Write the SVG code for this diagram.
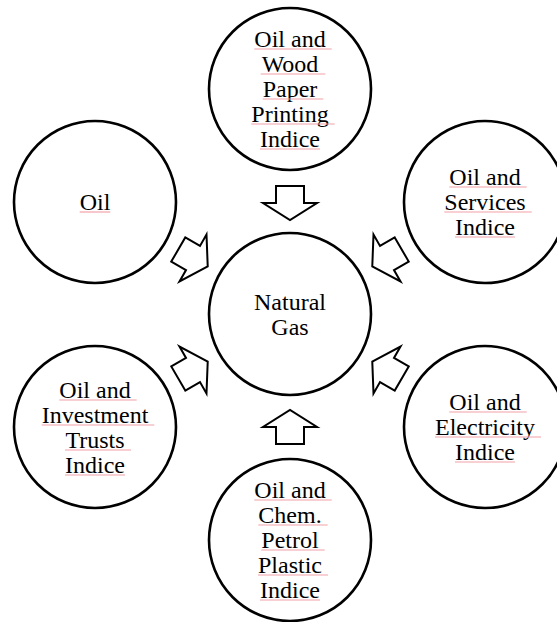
<svg xmlns="http://www.w3.org/2000/svg" xmlns:xlink="http://www.w3.org/1999/xlink" width="557" height="622" viewBox="0 0 557 622">
<style>
.node circle{fill:#fff;stroke:#000;stroke-width:2.6}
.node text{font-size:24px;fill:#000;text-anchor:middle}
.arr{fill:#fff;stroke:#000;stroke-width:2;stroke-linejoin:miter}
.sq{stroke:#f2a2aa;stroke-width:1.2;fill:none}
</style>
<defs>
<path id="blk" d="M -14 -17 H 14 V 0 H 27 L 0 17 L -27 0 H -14 Z"/>
</defs>
<rect width="557" height="622" fill="#fff"/>
<g id="connectors">
<use xlink:href="#blk" class="arr" transform="translate(290,203)"/>
<use xlink:href="#blk" class="arr" transform="translate(290,427) rotate(180)"/>
<use xlink:href="#blk" class="arr" transform="translate(193,258) rotate(-60)"/>
<use xlink:href="#blk" class="arr" transform="translate(387,258) rotate(60)"/>
<use xlink:href="#blk" class="arr" transform="translate(193,370) rotate(-120)"/>
<use xlink:href="#blk" class="arr" transform="translate(387,370) rotate(120)"/>
</g>
<g font-family="'Liberation Serif', 'Times New Roman', Times, serif">
<g id="node-top" class="node">
<circle cx="290" cy="89" r="81"/>
<text x="290" y="47">Oil and</text>
<text x="290" y="72">Wood</text>
<text x="290" y="97">Paper</text>
<text x="290" y="122">Printing</text>
<text x="290" y="147">Indice</text>
<path class="sq" d="M254.3 49H331.7M260.7 74H325.3M262.7 99H323.3M251.3 124H334.7M260 149H320"/>
</g>
<g id="node-oil" class="node">
<circle cx="95" cy="202" r="81"/>
<text x="95" y="210">Oil</text>
<path class="sq" d="M79.7 212H110.3"/>
</g>
<g id="node-services" class="node">
<circle cx="485" cy="202" r="81"/>
<text x="485" y="185">Oil and</text>
<text x="485" y="210">Services</text>
<text x="485" y="235">Indice</text>
<path class="sq" d="M449.3 187H526.7M444.3 212H531.7M455 237H515"/>
</g>
<g id="node-natural-gas" class="node">
<circle cx="290" cy="314" r="81"/>
<text x="290" y="310">Natural</text>
<text x="290" y="335">Gas</text>
</g>
<g id="node-investment" class="node">
<circle cx="95" cy="427" r="81"/>
<text x="95" y="398">Oil and</text>
<text x="95" y="423">Investment</text>
<text x="95" y="448">Trusts</text>
<text x="95" y="473">Indice</text>
<path class="sq" d="M59.3 400H136.7M41.7 425H154.3M65 450H131M65 475H125"/>
</g>
<g id="node-electricity" class="node">
<circle cx="485" cy="427" r="81"/>
<text x="485" y="410">Oil and</text>
<text x="485" y="435">Electricity</text>
<text x="485" y="460">Indice</text>
<path class="sq" d="M449.3 412H526.7M435 437H541M455 462H515"/>
</g>
<g id="node-chem" class="node">
<circle cx="290" cy="540" r="81"/>
<text x="290" y="498">Oil and</text>
<text x="290" y="523">Chem.</text>
<text x="290" y="548">Petrol</text>
<text x="290" y="573">Plastic</text>
<text x="290" y="598">Indice</text>
<path class="sq" d="M254.3 500H331.7M258.3 525H327.7M261.3 550H324.7M258 575H328M260 600H320"/>
</g>
</g>
</svg>
